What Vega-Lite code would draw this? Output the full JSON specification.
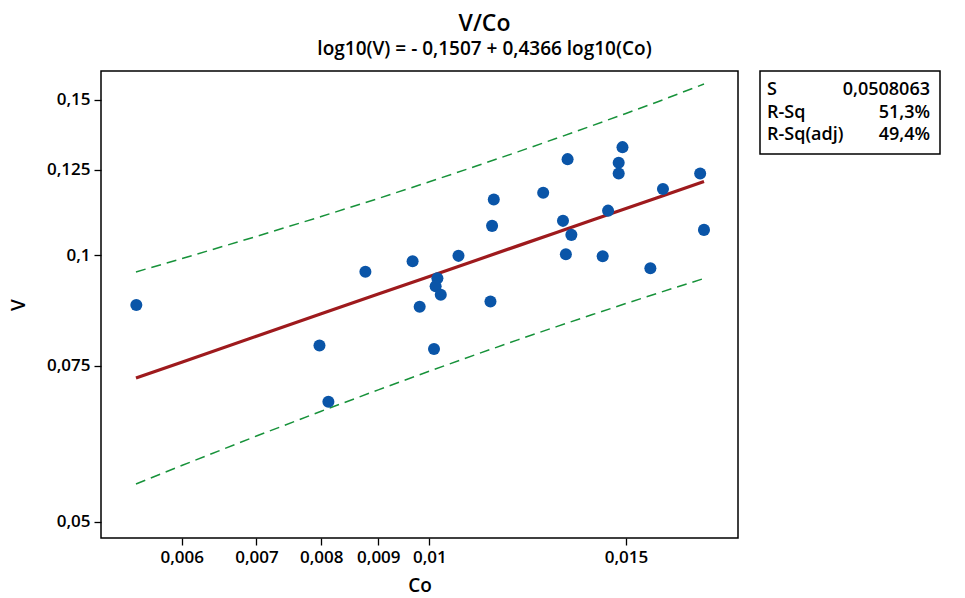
{
  "$schema": "https://vega.github.io/schema/vega-lite/v6.json",
  "background": "white",
  "padding": {"left": 8, "top": 12, "right": 5, "bottom": 5},
  "config": {
    "font": "Open Sans",
    "view": {"stroke": "black", "strokeWidth": 1.5},
    "axis": {
      "domain": false, "grid": false, "ticks": true, "tickColor": "black", "tickWidth": 1.3, "tickSize": 7,
      "labelFont": "Open Sans", "labelFontSize": 17, "labelFontWeight": 600, "labelColor": "black", "labelPadding": 4,
      "titleFont": "Open Sans", "titleFontSize": 19, "titleFontWeight": 600, "titleColor": "black"
    }
  },
  "datasets": {
    "pts": [
      {"Co": 0.005464, "V": 0.08785},
      {"Co": 0.008764, "V": 0.09579},
      {"Co": 0.007972, "V": 0.07909},
      {"Co": 0.00812, "V": 0.06829},
      {"Co": 0.00966, "V": 0.09849},
      {"Co": 0.009802, "V": 0.08746},
      {"Co": 0.010167, "V": 0.09423},
      {"Co": 0.01013, "V": 0.09229},
      {"Co": 0.010238, "V": 0.09022},
      {"Co": 0.010096, "V": 0.07835},
      {"Co": 0.010619, "V": 0.09986},
      {"Co": 0.011343, "V": 0.08867},
      {"Co": 0.011381, "V": 0.10797},
      {"Co": 0.011421, "V": 0.11565},
      {"Co": 0.012646, "V": 0.11769},
      {"Co": 0.013173, "V": 0.10939},
      {"Co": 0.013403, "V": 0.10547},
      {"Co": 0.013252, "V": 0.1003},
      {"Co": 0.013299, "V": 0.12846},
      {"Co": 0.014297, "V": 0.09978},
      {"Co": 0.014457, "V": 0.11234},
      {"Co": 0.014777, "V": 0.12723},
      {"Co": 0.014777, "V": 0.12374},
      {"Co": 0.014893, "V": 0.13254},
      {"Co": 0.015775, "V": 0.09671},
      {"Co": 0.01619, "V": 0.11883},
      {"Co": 0.017481, "V": 0.12374},
      {"Co": 0.017619, "V": 0.10685}
    ],
    "fit": [
      {"Co": 0.00546, "fit": 0.07265, "lower": 0.05514, "upper": 0.09577},
      {"Co": 0.006, "fit": 0.07571, "lower": 0.05785, "upper": 0.09913},
      {"Co": 0.007, "fit": 0.08102, "lower": 0.06246, "upper": 0.10504},
      {"Co": 0.008, "fit": 0.08587, "lower": 0.06664, "upper": 0.11063},
      {"Co": 0.009, "fit": 0.09041, "lower": 0.07045, "upper": 0.11596},
      {"Co": 0.010, "fit": 0.09465, "lower": 0.07396, "upper": 0.12110},
      {"Co": 0.011, "fit": 0.09867, "lower": 0.07721, "upper": 0.12609},
      {"Co": 0.012, "fit": 0.10249, "lower": 0.08024, "upper": 0.13092},
      {"Co": 0.013, "fit": 0.10613, "lower": 0.08306, "upper": 0.13562},
      {"Co": 0.014, "fit": 0.10962, "lower": 0.08571, "upper": 0.14021},
      {"Co": 0.015, "fit": 0.11295, "lower": 0.08821, "upper": 0.14470},
      {"Co": 0.016, "fit": 0.11619, "lower": 0.09058, "upper": 0.14909},
      {"Co": 0.01762, "fit": 0.12120, "lower": 0.09415, "upper": 0.15622}
    ],
    "stats": [
      {"stat": "S", "val": "0,0508063"},
      {"stat": "R-Sq", "val": "51,3%"},
      {"stat": "R-Sq(adj)", "val": "49,4%"}
    ]
  },
  "spacing": 20,
  "hconcat": [
    {
      "width": 637,
      "height": 467,
      "title": {
        "text": "V/Co",
        "subtitle": "log10(V) = - 0,1507 + 0,4366 log10(Co)",
        "anchor": "middle", "frame": "group", "dx": 65,
        "font": "Open Sans", "fontSize": 23, "fontWeight": 600, "color": "black",
        "subtitleFont": "Open Sans", "subtitleFontSize": 19, "subtitleFontWeight": 600, "subtitleColor": "black",
        "subtitlePadding": 4, "offset": 12
      },
      "encoding": {
        "x": {
          "field": "Co", "type": "quantitative",
          "scale": {"type": "log", "domain": [0.00508, 0.0189], "nice": false},
          "axis": {
            "title": "Co", "values": [0.006, 0.007, 0.008, 0.009, 0.01, 0.015],
            "labelExpr": "replace(format(datum.value, '~g'), '.', ',')",
            "titlePadding": 11
          }
        }
      },
      "layer": [
        {
          "data": {"name": "fit"},
          "mark": {"type": "line", "color": "#17923A", "strokeWidth": 1.5, "strokeDash": [10, 6]},
          "encoding": {
            "y": {"field": "upper", "type": "quantitative"}
          }
        },
        {
          "data": {"name": "fit"},
          "mark": {"type": "line", "color": "#17923A", "strokeWidth": 1.5, "strokeDash": [10, 6]},
          "encoding": {
            "y": {"field": "lower", "type": "quantitative"}
          }
        },
        {
          "data": {"name": "fit"},
          "mark": {"type": "line", "color": "#9E1A1D", "strokeWidth": 3.2},
          "encoding": {
            "y": {"field": "fit", "type": "quantitative"}
          }
        },
        {
          "data": {"name": "pts"},
          "mark": {"type": "circle", "color": "#0A55A8", "opacity": 1, "size": 145},
          "encoding": {
            "y": {
              "field": "V", "type": "quantitative",
              "scale": {"type": "log", "domain": [0.0479, 0.1616], "nice": false},
              "axis": {
                "title": "V", "values": [0.05, 0.075, 0.1, 0.125, 0.15],
                "labelExpr": "replace(format(datum.value, '~g'), '.', ',')",
                "titlePadding": 18
              }
            }
          }
        }
      ]
    },
    {
      "width": 180,
      "height": 83,
      "data": {"name": "stats"},
      "encoding": {
        "y": {
          "field": "stat", "type": "nominal",
          "scale": {"domain": ["S", "R-Sq", "R-Sq(adj)"], "padding": 0.85},
          "axis": null
        }
      },
      "layer": [
        {
          "mark": {"type": "text", "align": "left", "baseline": "middle", "dx": 7, "font": "Open Sans", "fontSize": 18, "fontWeight": 600, "color": "black"},
          "encoding": {
            "x": {"datum": 0, "type": "quantitative", "scale": {"domain": [0, 1]}, "axis": null},
            "text": {"field": "stat"}
          }
        },
        {
          "mark": {"type": "text", "align": "right", "baseline": "middle", "dx": -10, "font": "Open Sans", "fontSize": 18, "fontWeight": 600, "color": "black"},
          "encoding": {
            "x": {"datum": 1, "type": "quantitative", "scale": {"domain": [0, 1]}, "axis": null},
            "text": {"field": "val"}
          }
        }
      ]
    }
  ]
}
